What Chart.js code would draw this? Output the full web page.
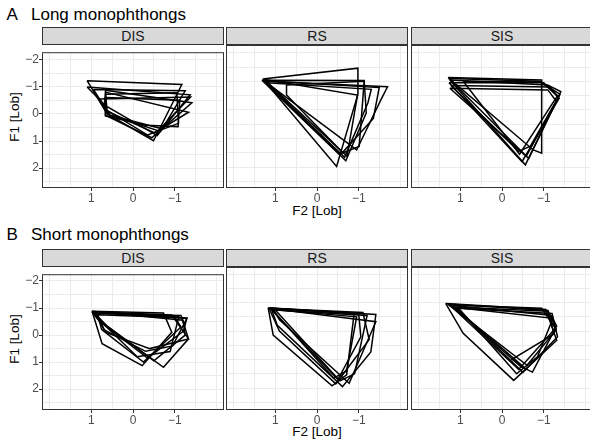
<!DOCTYPE html>
<html>
<head>
<meta charset="utf-8">
<script src="https://cdn.jsdelivr.net/npm/chart.js@4.4.0/dist/chart.umd.min.js"></script>
<style>
  body { margin: 0; width: 590px; height: 441px; overflow: hidden; background: #fff; position: relative;
         font-family: "Liberation Sans", Arial, sans-serif; }
  .lbl { position: absolute; white-space: nowrap; }
  .title { font-size: 17px; line-height: 17px; color: #000; }
  .strip { position: absolute; background: #D9D9D9; border: 1px solid #333; box-sizing: border-box;
           display: flex; align-items: center; justify-content: center; font-size: 14px; color: #1A1A1A; }
  .axt { font-size: 13.5px; line-height: 16px; color: #000; width: 100px; height: 16px; text-align: center; }
  canvas { position: absolute; }
</style>
</head>
<body>
<div id="root"></div>
<script>
// facets and tick labels
const groups = ["DIS", "RS", "SIS"];
const rowTitles = [["A", "Long monophthongs"], ["B", "Short monophthongs"]];
const xTickLabels = [1, 0, -1];
const yTickLabels = [-2, -1, 0, 1, 2];
const xGrid = [-2, -1.5, -1, -0.5, 0, 0.5, 1, 1.5, 2];
const yGrid = [-2, -1.5, -1, -0.5, 0, 0.5, 1, 1.5, 2, 2.5];

// one polygon per speaker: [F2, F1] in Lobanov units
const longDIS = [
  [[1.10, -1.22], [-1.17, -1.08], [-0.57, 0.76], [-0.49, 0.99], [0.62, 0.00]],
  [[1.10, -0.99], [-1.37, -0.70], [-0.58, 0.80], [0.66, -0.30]],
  [[0.66, -0.87], [-1.41, -0.41], [-0.45, 0.88], [0.66, 0.05]],
  [[0.66, -0.80], [-1.33, -0.06], [-0.52, 0.70], [0.62, -0.10]],
  [[0.66, -0.72], [-1.05, -0.78], [-1.09, 0.35], [-0.35, 0.78], [0.70, -0.20]],
  [[0.80, -0.55], [-1.38, -0.62], [-0.60, 0.62], [0.60, 0.02]],
  [[0.66, -0.60], [-1.12, -0.50], [-1.08, 0.47], [-0.30, 0.42], [0.66, 0.08]],
  [[0.95, -0.90], [-1.25, -0.85], [-0.70, 0.55], [0.55, 0.05]]
];
const longRS = [
  [[1.30, -1.08], [-0.98, -1.46], [-0.98, -0.55], [-0.47, 1.98]],
  [[1.32, -1.04], [-1.13, -1.03], [-1.18, 0.10], [-0.69, 1.78]],
  [[1.25, -1.00], [-1.69, -0.81], [-1.53, -0.35], [-0.95, 1.40]],
  [[1.28, -1.02], [-1.49, -0.78], [-1.35, 0.30], [-0.56, 1.57]],
  [[1.20, -0.95], [-1.30, -0.72], [-1.22, -0.25], [-0.66, 1.66]],
  [[0.73, -0.87], [-1.13, -1.00], [-1.01, 1.28], [-0.62, 1.50], [0.73, -0.52]],
  [[1.26, -1.06], [-0.97, -0.52], [-0.72, 1.62]]
];
const longSIS = [
  [[1.29, -1.13], [-0.95, -1.05], [-0.95, 1.51], [-0.75, 1.40]],
  [[1.25, -1.05], [-1.09, -0.87], [-1.41, -0.64], [-0.56, 1.92]],
  [[1.27, -0.95], [-1.00, -0.95], [-1.37, -0.41], [-0.48, 1.81]],
  [[1.22, -0.85], [-1.15, -0.80], [-1.35, -0.45], [-0.68, 1.27], [-0.40, 1.45]],
  [[1.25, -0.76], [-1.10, -0.70], [-1.30, -0.30], [-0.58, 1.62]],
  [[0.93, -1.00], [-0.95, -0.98], [-1.33, -0.50], [-0.42, 1.55]],
  [[1.27, -1.10], [-0.90, -1.00], [-1.39, -0.55], [-0.64, 1.70]]
];
const shortDIS = [
  [[0.98, -0.88], [-0.73, -0.82], [-0.93, -0.10], [-0.22, 1.13], [0.74, 0.32]],
  [[0.95, -0.86], [-0.93, -0.74], [-1.33, 0.14], [-0.73, 1.19], [0.60, -0.30]],
  [[0.98, -0.85], [-1.29, -0.62], [-1.21, -0.15], [-0.35, 0.85], [0.80, -0.50]],
  [[0.92, -0.82], [-1.10, -0.70], [-0.89, 0.61], [-0.10, 0.80], [0.70, -0.40]],
  [[0.98, -0.88], [-1.20, -0.55], [-1.25, 0.00], [-0.50, 0.95], [0.85, -0.60]],
  [[0.88, -0.85], [-1.29, -0.62], [-0.95, 0.40], [-0.30, 0.60], [0.70, -0.20]],
  [[0.90, -0.80], [-1.15, -0.72], [-1.33, 0.14], [-0.40, 0.50], [0.65, -0.10]],
  [[0.85, -0.75], [-1.00, -0.65], [-1.15, -0.30], [-0.25, 1.00], [0.75, -0.20]]
];
const shortRS = [
  [[1.17, -0.82], [-0.89, -0.62], [-0.71, 1.54], [-0.36, 1.92], [1.05, 0.14]],
  [[1.10, -0.80], [-1.41, -0.58], [-1.29, 0.73], [-0.61, 1.95], [0.95, -0.20]],
  [[1.05, -0.78], [-1.41, -0.33], [-0.77, 1.83], [0.90, -0.40]],
  [[1.12, -0.80], [-1.00, -0.60], [-1.05, 0.20], [-0.50, 1.70]],
  [[1.00, -0.74], [-1.20, -0.55], [-0.90, 1.50], [-0.55, 1.75]],
  [[1.15, -0.80], [-1.10, -0.65], [-1.25, 0.30], [-0.45, 1.85], [0.90, 0.00]],
  [[1.08, -0.76], [-0.95, -0.50], [-0.71, 1.40], [-0.40, 1.65]]
];
const shortSIS = [
  [[1.35, -0.97], [-1.05, -0.76], [-1.31, 0.32], [-0.28, 1.73], [0.93, 0.08]],
  [[1.20, -0.90], [-1.17, -0.56], [-1.31, -0.18], [-0.73, 1.44], [-0.45, 1.25]],
  [[1.09, -0.80], [-1.20, -0.62], [-1.33, 0.20], [-0.50, 1.45]],
  [[1.15, -0.85], [-1.10, -0.70], [-1.25, 0.10], [-0.24, 0.99], [-0.55, 1.30]],
  [[1.25, -0.92], [-0.95, -0.80], [-1.28, -0.10], [-0.40, 1.35]],
  [[1.05, -0.82], [-1.22, -0.45], [-0.85, 0.90], [-0.35, 1.50]],
  [[1.30, -0.95], [-1.10, -0.72], [-1.30, -0.05], [-0.60, 1.20]]
];
const panels = [[longDIS, longRS, longSIS], [shortDIS, shortRS, shortSIS]];

// layout (px)
const panelX = [[42, 224], [226, 408], [411, 593]];
const rows = [
  { stripTop: 27, top: 45, bottom: 188, yMin: -2.27, yMax: 2.73, titleTop: 6.3, xTitleY: 211 },
  { stripTop: 249, top: 267, bottom: 410, yMin: -2.25, yMax: 2.77, titleTop: 226.3, xTitleY: 432 }
];
const yAxisW = 42, xAxisH = 22;
const FONT = "'Liberation Sans', Arial, sans-serif";

const root = document.getElementById("root");
function addDiv(cls, text, css) {
  const d = document.createElement("div");
  d.className = cls;
  d.textContent = text;
  Object.assign(d.style, css);
  root.appendChild(d);
  return d;
}
const fmt = v => v === 0 ? "0" : (v < 0 ? "\u2212" + Math.abs(v) : String(v));

const borderPlugin = {
  id: "panelBorder",
  afterDraw(chart) {
    const a = chart.chartArea, c = chart.ctx;
    c.save();
    c.strokeStyle = "#333333";
    c.lineWidth = 1;
    c.strokeRect(a.left + 0.5, a.top + 0.5, a.right - a.left - 1, a.bottom - a.top - 1);
    c.restore();
  }
};

rows.forEach((row, r) => {
  addDiv("lbl title", rowTitles[r][0], { left: "6.5px", top: row.titleTop + "px" });
  addDiv("lbl title", rowTitles[r][1], { left: "31px", top: row.titleTop + "px" });
  const mid = (row.top + row.bottom) / 2;
  addDiv("lbl axt", "F1 [Lob]", { left: (15 - 50) + "px", top: (mid - 8) + "px", transform: "rotate(-90deg)" });
  addDiv("lbl axt", "F2 [Lob]", { left: (317 - 50) + "px", top: (row.xTitleY - 8) + "px" });

  groups.forEach((g, c) => {
    const [pl, pr] = panelX[c];
    const first = c === 0;
    addDiv("strip", g, { left: pl + "px", top: row.stripTop + "px", width: (pr - pl) + "px", height: (row.top - row.stripTop) + "px" });

    const cv = document.createElement("canvas");
    const left = first ? pl - yAxisW : pl;
    const w = pr - left, h = row.bottom - row.top + xAxisH;
    cv.width = w; cv.height = h;
    cv.style.left = left + "px"; cv.style.top = row.top + "px";
    cv.style.width = w + "px"; cv.style.height = h + "px";
    root.appendChild(cv);

    const datasets = panels[r][c].map(poly => ({
      data: poly.concat([poly[0]]).map(([x, y]) => ({ x, y })),
      showLine: true,
      pointRadius: 0,
      borderColor: "#000000",
      borderWidth: 1.5,
      fill: false,
      tension: 0
    }));

    new Chart(cv, {
      type: "scatter",
      data: { datasets },
      plugins: [borderPlugin],
      options: {
        responsive: false,
        animation: false,
        devicePixelRatio: 1,
        layout: { padding: 0 },
        plugins: { legend: { display: false }, tooltip: { enabled: false } },
        scales: {
          x: {
            type: "linear",
            reverse: true,
            min: -2.18,
            max: 2.18,
            afterBuildTicks: s => { s.ticks = xGrid.map(v => ({ value: v })); },
            afterFit: s => { s.height = xAxisH; },
            border: { display: false },
            grid: {
              color: "#EBEBEB",
              lineWidth: 1,
              tickLength: 3,
              tickColor: ctx => xTickLabels.includes(ctx.tick && ctx.tick.value) ? "#333333" : "rgba(0,0,0,0)"
            },
            ticks: {
              autoSkip: false,
              maxRotation: 0,
              padding: 0,
              color: "#4D4D4D",
              font: { family: FONT, size: 12 },
              callback: v => xTickLabels.includes(v) ? fmt(v) : ""
            }
          },
          y: {
            type: "linear",
            reverse: true,
            min: row.yMin,
            max: row.yMax,
            afterBuildTicks: s => { s.ticks = yGrid.map(v => ({ value: v })); },
            afterFit: s => { s.width = first ? yAxisW : 0; },
            border: { display: false },
            grid: {
              color: "#EBEBEB",
              lineWidth: 1,
              drawTicks: first,
              tickLength: 3,
              tickColor: ctx => yTickLabels.includes(ctx.tick && ctx.tick.value) ? "#333333" : "rgba(0,0,0,0)"
            },
            ticks: {
              display: first,
              autoSkip: false,
              padding: 0,
              color: "#4D4D4D",
              font: { family: FONT, size: 12 },
              callback: v => yTickLabels.includes(v) ? fmt(v) : ""
            }
          }
        }
      }
    });
  });
});
</script>
</body>
</html>
